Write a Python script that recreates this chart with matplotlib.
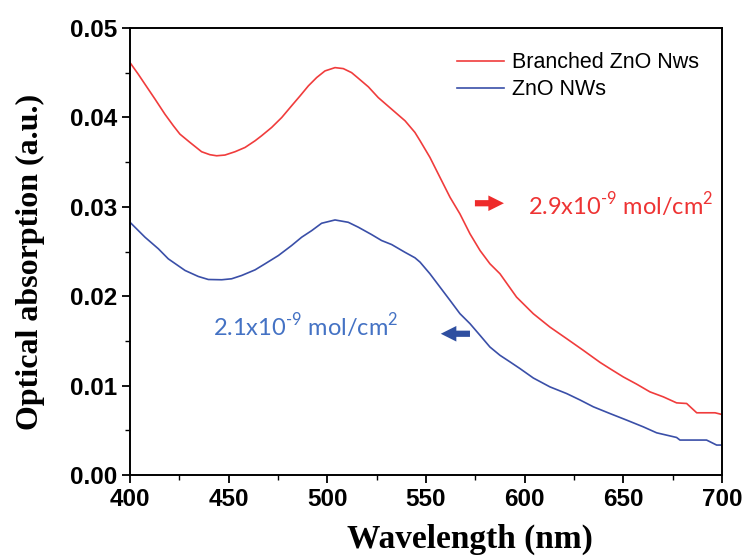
import numpy as np
import matplotlib.pyplot as plt
from matplotlib.ticker import MultipleLocator

# Espectros de absorcion
wl_branched = [400, 404.2, 407.6, 412.7, 417.7, 422, 425.3, 430.4, 436.3, 440.5,
               443.9, 448.1, 453.2, 458.3, 463.4, 466.7, 471.8, 476.9, 481.9, 486.2,
               490.4, 494.6, 498.8, 503.9, 508.1, 512.3, 515.7, 520.8, 525.8, 532.6,
               539.4, 544.4, 547, 552, 557.1, 562.2, 567.2, 572.3, 577.4, 582.4,
               587.5, 595.9, 604.4, 612.8, 621.3, 629.7, 638.2, 643.2, 650, 656.8,
               663.5, 670.3, 677, 682.1, 687.2, 696.5, 700]
abs_branched = [0.04613, 0.04483, 0.04371, 0.04204, 0.04036, 0.03906, 0.03813, 0.0372, 0.03616, 0.03583,
                0.03571, 0.03579, 0.03616, 0.03664, 0.03739, 0.03795, 0.03888, 0.03999, 0.0413, 0.04241,
                0.04353, 0.04446, 0.0452, 0.04557, 0.04546, 0.04501, 0.04438, 0.04342, 0.04222, 0.04092,
                0.03962, 0.03832, 0.03739, 0.03553, 0.03329, 0.03106, 0.02921, 0.02698, 0.02511, 0.02363,
                0.02251, 0.0199, 0.01804, 0.01655, 0.01525, 0.01395, 0.01260, 0.0119, 0.01097, 0.01016,
                0.0093, 0.00874, 0.00807, 0.0080, 0.00696, 0.00696, 0.00677]

wl_nws = [400, 407.6, 414.4, 419.4, 427.9, 434.6, 439.7, 446.5, 451.5, 456.6,
          463.4, 468.4, 475.2, 481.9, 487, 492.1, 497.1, 503.9, 510.6, 515.7,
          522.4, 527.5, 532.6, 539.3, 544.4, 547, 552, 557.1, 562.2, 567.2,
          572.3, 577.4, 582.4, 587.5, 592.6, 597.6, 604.4, 612.8, 621.3, 628,
          634.8, 643.2, 651.7, 660.1, 666.9, 677, 678.7, 692.2, 697.3, 700]
abs_nws = [0.02827, 0.0266, 0.0253, 0.02418, 0.02288, 0.02221, 0.02187, 0.02184, 0.02195, 0.02232,
           0.02295, 0.02362, 0.02455, 0.02567, 0.0266, 0.02734, 0.02816, 0.02853, 0.02827, 0.02772,
           0.0269, 0.02623, 0.02578, 0.02492, 0.02430, 0.02381, 0.02251, 0.02102, 0.01953, 0.01805,
           0.01693, 0.01562, 0.01432, 0.01339, 0.01265, 0.01191, 0.01085, 0.00986, 0.00911, 0.0084,
           0.00763, 0.00688, 0.00614, 0.00539, 0.00472, 0.0042, 0.00391, 0.00391, 0.00335, 0.00335]

labels = ['Branched ZnO Nws', 'ZnO NWs']
loading_red = r'2.9x10$^{\text{-9}}$ mol/cm$^{\text{2}}$'
loading_blue = r'2.1x10$^{\text{-9}}$ mol/cm$^{\text{2}}$'

plt.rcParams['font.family'] = ['Liberation Sans', 'DejaVu Sans']
plt.rcParams['mathtext.fontset'] = 'custom'
plt.rcParams['mathtext.rm'] = 'Lato'

fig = plt.figure(figsize=(7.42, 5.57), dpi=100)
ax = fig.add_axes([0.1752, 0.1472, 0.7978, 0.8025])

ax.plot(wl_branched, abs_branched, color='#f03c3c', lw=1.2, label=labels[0])
ax.plot(wl_nws, abs_nws, color='#3a4fa8', lw=1.2, label=labels[1])

ax.set_xlim(400, 700)
ax.set_ylim(0, 0.05)
ax.xaxis.set_major_locator(MultipleLocator(50))
ax.xaxis.set_minor_locator(MultipleLocator(25))
ax.yaxis.set_major_locator(MultipleLocator(0.01))
ax.yaxis.set_minor_locator(MultipleLocator(0.005))
ax.yaxis.set_major_formatter(plt.FormatStrFormatter('%.2f'))
ax.tick_params(which='major', direction='out', length=6, width=1.3, labelsize=17.5, pad=3)
ax.tick_params(which='minor', direction='out', length=3.5, width=1.0)
for lab in ax.get_xticklabels() + ax.get_yticklabels():
    lab.set_fontweight('bold')
for s in ax.spines.values():
    s.set_linewidth(1.4)

ax.set_xlabel('Wavelength (nm)', family='Liberation Serif', fontweight='bold', fontsize=24)
ax.xaxis.set_label_coords(0.574, -0.108)
ax.set_ylabel('Optical absorption (a.u.)', family='Liberation Serif', fontweight='bold', fontsize=23)
ax.yaxis.set_label_coords(-0.1436, 0.4765)

fig.legend(loc='upper left', bbox_to_anchor=(0.616, 0.906), frameon=False, fontsize=15.5,
           handlelength=2.2, borderpad=0, borderaxespad=0, labelspacing=0.28, handletextpad=0.35)

# flechas y anotaciones
arrow_style = 'simple,head_length=0.4,head_width=0.4,tail_width=0.16'
ax.annotate('', xy=(589.5, 0.0304), xytext=(574.8, 0.0304),
            arrowprops=dict(arrowstyle=arrow_style, mutation_scale=28, color='#ee2b2b', lw=0,
                            shrinkA=0, shrinkB=0))
ax.text(601.5, 0.0302, loading_red, color='#ee3333', fontsize=17, va='center', ha='left',
        family=['Lato', 'DejaVu Sans'])
ax.annotate('', xy=(557.5, 0.0158), xytext=(572.3, 0.0158),
            arrowprops=dict(arrowstyle=arrow_style, mutation_scale=28, color='#2f4fa0', lw=0,
                            shrinkA=0, shrinkB=0))
ax.text(442, 0.0167, loading_blue, color='#4472c4', fontsize=17, va='center', ha='left',
        family=['Lato', 'DejaVu Sans'])

plt.savefig('out.png', dpi=100)
